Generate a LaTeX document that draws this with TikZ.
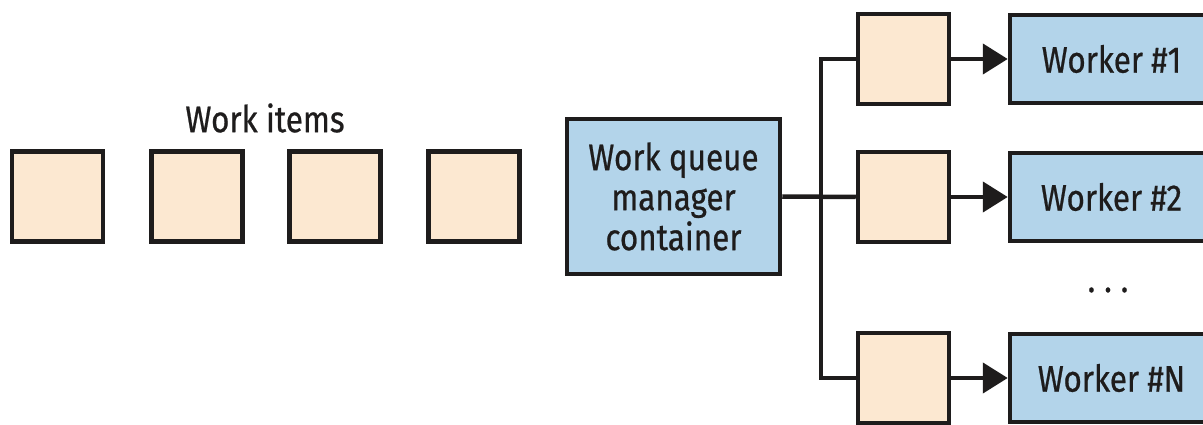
\documentclass[tikz,border=0pt]{standalone}
\usepackage{fontspec}
\setmainfont{Fira Sans}[FakeStretch=0.85,FakeBold=0.6]
\usepackage{tikz}
\usetikzlibrary{arrows.meta}
\definecolor{itempeach}{HTML}{FCE8D1}
\definecolor{boxblue}{HTML}{B3D4EA}
\definecolor{inkblack}{HTML}{1E1C1C}
\tikzstyle{itembox}=[rectangle,draw=inkblack,fill=itempeach,line width=4.5pt,
                     inner sep=0pt,minimum width=91pt,minimum height=90pt]
\tikzstyle{bluebox}=[rectangle,draw=inkblack,fill=boxblue,line width=4.5pt,
                     inner sep=0pt,align=center,text=inkblack,
                     font=\fontsize{37}{40}\selectfont]
\tikzstyle{link}=[draw=inkblack,line width=4.5pt]
\tikzstyle{feed}=[draw=inkblack,line width=4.5pt,
                  -{Triangle[length=25pt,width=30pt]}]

\begin{document}
\begin{tikzpicture}[x=1pt,y=-1pt]
    \useasboundingbox (0,0) rectangle (1203,425);
    \clip (0,0) rectangle (1203,425);
    % work items waiting
    \node (i1) at ( 57.5, 196.5) [itembox]{};
    \node (i2) at (197,   196.5) [itembox]{};
    \node (i3) at (335,   196.5) [itembox]{};
    \node (i4) at (474,   196.5) [itembox]{};
    \node (lbl) at (265, 118) [text=inkblack,
        font=\fontsize{37}{40}\selectfont]{Work items};
    % manager
    \node (mgr) at (673.5, 196.5) [bluebox,minimum width=213pt,
        minimum height=155pt]{Work queue\\manager\\container};
    % queues and workers
    \node (q1) at (903.5,  59) [itembox]{};
    \node (q2) at (903.5, 197) [itembox]{};
    \node (q3) at (903.5, 378) [itembox]{};
    \node (w1) at (1111.5,  59) [bluebox,minimum width=203pt,
        minimum height=88pt]{Worker \#1};
    \node (w2) at (1111.5, 197) [bluebox,minimum width=203pt,
        minimum height=88pt]{Worker \#2};
    \node (w3) at (1111.5, 378) [bluebox,minimum width=203pt,
        minimum height=88pt]{Worker \#N};
    \node (dots) at (1108, 290) [text=inkblack,
        font=\fontsize{37}{40}\selectfont]{.\hspace{9pt}.\hspace{9pt}.};
    \coordinate (bus) at (821, 197);
    \draw[link] (mgr.east) -- (q2.west);
    \draw[link] (q1.west) -| (bus) |- (q3.west);
    \draw[feed] (q1) -- (w1);
    \draw[feed] (q2) -- (w2);
    \draw[feed] (q3) -- (w3);
  \end{tikzpicture}
\end{document}
